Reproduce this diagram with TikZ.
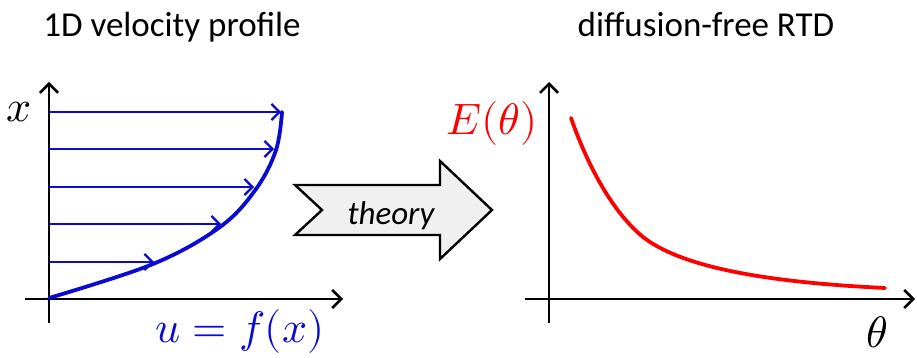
\documentclass[tikz,border=0pt]{standalone}
\usepackage{fontspec}
\usepackage{unicode-math}
\setmainfont{Carlito}
\setmathfont{Latin Modern Math}
\usetikzlibrary{arrows.meta}
\definecolor{pblue}{RGB}{10,10,210}
\definecolor{pred}{RGB}{255,0,0}
\definecolor{arrfill}{RGB}{240,240,240}
\tikzset{
  axis/.style={line width=2.6pt, -{Straight Barb[length=9pt,width=18pt,line width=2.6pt]}},
  vel/.style={pblue, line width=2.2pt, -{Straight Barb[length=8pt,width=16pt,line width=2.2pt]}},
  title/.style={font=\fontsize{35}{38}\selectfont, inner sep=0pt, anchor=base},
  mlab/.style={font=\fontsize{44}{46}\selectfont, inner sep=0pt, anchor=base},
}
\begin{document}
\begin{tikzpicture}[x=1pt,y=-1pt]
\useasboundingbox (0,0) rectangle (917,358);
% titles
\node[title] (t1) at (172,37) {1D velocity profile};
\node[title] (t2) at (706,37) {diffusion-free RTD};
% left axes
\coordinate (ly0) at (49,323);
\coordinate (ly1) at (49,82);
\coordinate (lx0) at (25,299);
\coordinate (lx1) at (343,299);
\draw[axis] (ly0) -- (ly1);
\draw[axis] (lx0) -- (lx1);
% velocity arrows
\foreach \y/\xe/\n in {112/281/a,149/274/b,187/254/c,224/221/d,262/154/e}{
  \coordinate (s\n) at (49,\y);
  \coordinate (e\n) at (\xe,\y);
  \draw[vel] (s\n) -- (e\n);
}
% profile curve
\draw[pblue, line width=3.8pt, line cap=round] plot[smooth, tension=0.6] coordinates {(49,298) (153,264) (220,227) (256,189) (276,150) (282,112)};
\node[mlab] (xl) at (19,122) {$x$};
\node[mlab, pblue] (ul) at (240,342) {$u=f(x)$};
% theory arrow
\draw[line width=2.4pt, fill=arrfill, line join=miter]
  (295,185) -- (440,185) -- (440,161) -- (492,210) -- (440,259) -- (440,235) -- (295,235) -- (322,210) -- cycle;
\node[font=\fontsize{33}{36}\selectfont\itshape, inner sep=0pt, anchor=base] (th) at (391,224) {theory};
% right axes
\coordinate (ry0) at (549,323);
\coordinate (ry1) at (549,82);
\coordinate (rx0) at (525,299);
\coordinate (rx1) at (915,299);
\draw[axis] (ry0) -- (ry1);
\draw[axis] (rx0) -- (rx1);
\coordinate (c0) at (571,118);
\coordinate (c1) at (643,237);
\coordinate (c2) at (885,288);
\draw[pred, line width=3.8pt, line cap=round]
  (c0) .. controls (590,172) and (615,214) .. (c1)
       .. controls (680,266) and (760,282) .. (c2);
\node[mlab, pred] (el) at (492,135) {$E(\theta)$};
\node[mlab] (tl) at (877,347) {$\theta$};
\end{tikzpicture}
\end{document}
